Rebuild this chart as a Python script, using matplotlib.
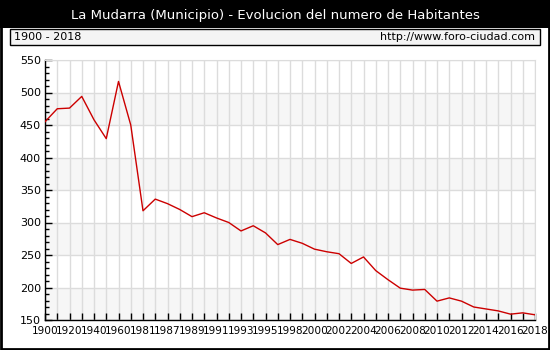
import matplotlib
matplotlib.use('Agg')
import matplotlib.pyplot as plt
from matplotlib.patches import Rectangle
from matplotlib.ticker import MultipleLocator

# datos del padron
anios = ['1900', '1910', '1920', '1930', '1940', '1950', '1960', '1970', '1981', '1986',
         '1987', '1988', '1989', '1990', '1991', '1992', '1993', '1994', '1995', '1996',
         '1998', '1999', '2000', '2001', '2002', '2003', '2004', '2005', '2006', '2007',
         '2008', '2009', '2010', '2011', '2012', '2013', '2014', '2015', '2016', '2017',
         '2018']
habitantes = [455, 475, 476, 494, 458, 429, 517, 450, 318, 336,
              329, 320, 309, 315, 307, 300, 287, 295, 284, 266,
              274, 268, 259, 255, 252, 237, 247, 226, 212, 199,
              196, 197, 179, 184, 179, 170, 167, 164, 159, 161,
              158]

titulo = 'La Mudarra (Municipio) - Evolucion del numero de Habitantes'
periodo = '1900 - 2018'
web = 'http://www.foro-ciudad.com'

plt.rcParams['font.family'] = ['DejaVu Sans']

W, H = 550, 350
fig = plt.figure(figsize=(W / 100, H / 100), dpi=100)
fig.patch.set_facecolor('white')

# barra negra del titulo y marco exterior
fig.patches.append(Rectangle((0, 1 - 28 / H), 1, 28 / H, transform=fig.transFigure,
                             facecolor='black', edgecolor='none', zorder=0))
fig.patches.append(Rectangle((1 / W, 1 / H), 1 - 2 / W, 1 - 2 / H, transform=fig.transFigure,
                             facecolor='none', edgecolor='black', linewidth=2, zorder=5))
fig.text(0.5, 1 - 15 / H, titulo, color='white', fontsize=9.5, ha='center', va='center')

# caja con el periodo y la web
fig.patches.append(Rectangle((10 / W, 1 - 45 / H), 530 / W, 16 / H, transform=fig.transFigure,
                             facecolor='#f4f4f4', edgecolor='black', linewidth=1, zorder=1))
fig.text(14 / W, 1 - 37 / H, periodo, fontsize=8, ha='left', va='center')
fig.text(535 / W, 1 - 37 / H, web, fontsize=8, ha='right', va='center')

# area del grafico
ax = fig.add_axes([45 / W, 30 / H, 490 / W, 260 / H])
ax.set_facecolor('white')
x = list(range(len(anios)))

for y0 in [150, 250, 350, 450]:
    ax.axhspan(y0, y0 + 50, color='#f6f6f6', zorder=0, lw=0)

ax.plot(x, habitantes, color='#cc0000', linewidth=1, zorder=3)

ax.set_xlim(0, len(anios) - 1)
ax.set_ylim(150, 550)
ax.set_xticks(x)
ax.set_xticklabels([a if i % 2 == 0 else '' for i, a in enumerate(anios)], fontsize=7.6)
ax.yaxis.set_major_locator(MultipleLocator(50))
ax.yaxis.set_minor_locator(MultipleLocator(10))
ax.tick_params(axis='y', labelsize=8)

ax.tick_params(which='major', direction='in', length=5, width=1, color='black', pad=3)
ax.tick_params(which='minor', direction='in', length=3, width=1, color='black')
ax.tick_params(axis='x', pad=4)

ax.grid(True, which='major', color='#dcdcdc', linewidth=1, zorder=1)
ax.set_axisbelow(True)

for s in ['top', 'right']:
    ax.spines[s].set_color('#dcdcdc')
for s in ['left', 'bottom']:
    ax.spines[s].set_color('black')
    ax.spines[s].set_linewidth(1)

plt.savefig('out.png', dpi=100, facecolor='white')
plt.close()
